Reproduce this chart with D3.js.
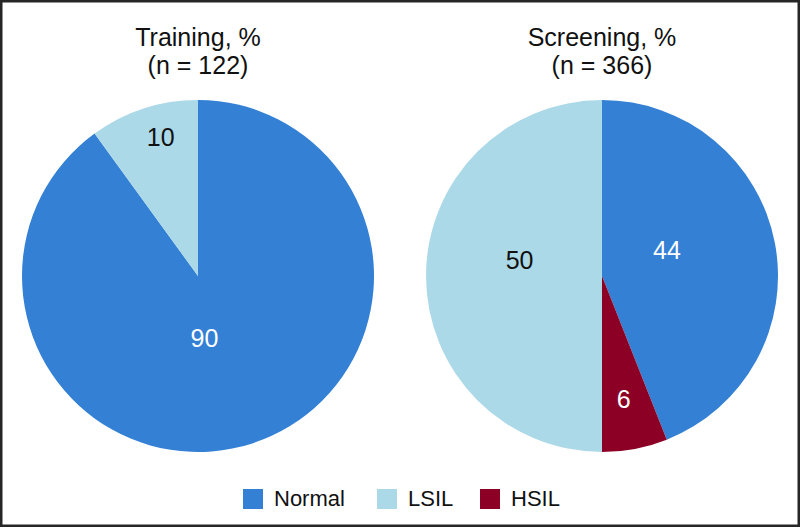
<!DOCTYPE html>
<html>
<head>
<meta charset="utf-8">
<script src="https://cdn.jsdelivr.net/npm/d3@7"></script>
<style>
  html, body { margin: 0; padding: 0; background: #fff; }
  svg { display: block; font-family: "Liberation Sans", Arial, sans-serif; }
</style>
</head>
<body>
<svg id="chart" width="801" height="528"></svg>
<script>
// ---- data ----
const categories = ["Normal", "LSIL", "HSIL"];
const colors = ["#3380d5", "#acd9e8", "#8b0024"];
const panelTitles = ["Training, %", "Screening, %"];
const panelCounts = ["(n = 122)", "(n = 366)"];
// slice order as drawn clockwise from 12 o'clock
const trainingOrder = ["Normal", "LSIL"];
const trainingValues = [90, 10];
const screeningOrder = ["Normal", "HSIL", "LSIL"];
const screeningValues = [44, 6, 50];

// ---- layout (label placement, polar: degrees from 12 o'clock, px from centre) ----
const trainingLabelAngle = [174, -15];
const trainingLabelRadius = [62, 144];
const screeningLabelAngle = [68, 170, -79];
const screeningLabelRadius = [70, 125, 84];

const svg = d3.select("#chart");
const W = 801, H = 528;
const R = 176;
const cy = 276;
const color = d3.scaleOrdinal().domain(categories).range(colors);
const textColor = d3.scaleOrdinal().domain(categories).range(["#ffffff", "#111111", "#ffffff"]);

svg.append("rect").attr("x", 1.25).attr("y", 1.25).attr("width", W - 3.5).attr("height", H - 3.5)
  .attr("fill", "#fff").attr("stroke", "#262626").attr("stroke-width", 2.5);

const panels = [
  { cx: 198, title: panelTitles[0], n: panelCounts[0], order: trainingOrder, values: trainingValues,
    la: trainingLabelAngle, lr: trainingLabelRadius },
  { cx: 602, title: panelTitles[1], n: panelCounts[1], order: screeningOrder, values: screeningValues,
    la: screeningLabelAngle, lr: screeningLabelRadius }
];

const pie = d3.pie().sort(null).value(d => d.value);
const arc = d3.arc().innerRadius(0).outerRadius(R);

panels.forEach(p => {
  const g = svg.append("g").attr("transform", `translate(${p.cx},${cy})`);
  const data = p.order.map((c, i) => ({ cat: c, value: p.values[i], la: p.la[i], lr: p.lr[i] }));
  const arcs = pie(data);
  g.selectAll("path").data(arcs).join("path")
    .attr("d", arc)
    .attr("fill", d => color(d.data.cat));
  g.selectAll("text.lbl").data(arcs).join("text")
    .attr("class", "lbl")
    .attr("x", d => Math.sin(d.data.la * Math.PI / 180) * d.data.lr)
    .attr("y", d => -Math.cos(d.data.la * Math.PI / 180) * d.data.lr)
    .attr("dy", "0.36em")
    .attr("text-anchor", "middle")
    .attr("font-size", 25)
    .attr("fill", d => textColor(d.data.cat))
    .text(d => d.data.value);

  svg.append("text").attr("x", p.cx).attr("y", 46).attr("text-anchor", "middle")
    .attr("font-size", 25).attr("fill", "#111").text(p.title);
  svg.append("text").attr("x", p.cx).attr("y", 74).attr("text-anchor", "middle")
    .attr("font-size", 25).attr("fill", "#111").text(p.n);
});

// ---- legend ----
const legendX = [243, 377, 480];
const lg = svg.append("g");
categories.forEach((c, i) => {
  lg.append("rect").attr("x", legendX[i]).attr("y", 489).attr("width", 20).attr("height", 20)
    .attr("fill", color(c));
  lg.append("text").attr("x", legendX[i] + 31).attr("y", 506)
    .attr("font-size", 22).attr("fill", "#111").text(c);
});
</script>
</body>
</html>
